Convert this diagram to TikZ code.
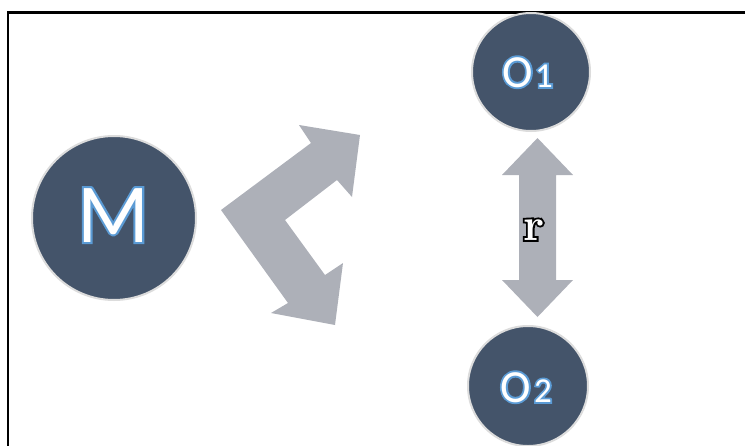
\documentclass[tikz,border=0pt]{standalone}
\usepackage{fontspec}
\newfontfamily\labelfont{Carlito}
\newfontfamily\rimM[FakeBold=5]{Carlito}
\newfontfamily\rimO[FakeBold=8]{Carlito}
\newfontfamily\rimD[FakeBold=10]{Carlito}
\newfontfamily\serifrim[FakeBold=8]{Latin Modern Roman}
\definecolor{discfill}{HTML}{44546A}
\definecolor{discrim}{HTML}{DCDCDC}
\definecolor{arrowgray}{HTML}{ADB0B8}
\definecolor{glowblue}{HTML}{5B9BD5}

\begin{document}
\begin{tikzpicture}[x=1pt, y=-1pt,
  disc/.style={circle, fill=discfill, draw=discrim, line width=2pt, inner sep=0pt},
  blockarrow/.style={fill=arrowgray, draw=none},
  rim/.style={text=glowblue, inner sep=0pt, anchor=base west},
  face/.style={text=white, inner sep=0pt, anchor=base west}]
\useasboundingbox (0,0) rectangle (745,445);

% frame (top and left edges)
\draw[line width=2.2pt, line cap=rect] (8,445) -- (8,12.5) -- (745,12.5);

% discs
\node[disc, minimum size=164pt] (m) at (114,218) {};
\node[disc, minimum size=118pt] (o1) at (531,72) {};
\node[disc, minimum size=120pt] (o2) at (528,386) {};

% labels: emboldened blue glyph under a white glyph on the same origin
\node[rim, font=\rimM\fontsize{84}{84}\selectfont] (mrim) at (77,242) {M};
\node[face, font=\labelfont\fontsize{84}{84}\selectfont] (mlab) at (77,242) {M};

\node[rim, font=\rimO\fontsize{46}{46}\selectfont] (o1rim) at (502,87) {O};
\node[face, font=\labelfont\fontsize{46}{46}\selectfont] (o1lab) at (502,87) {O};
\node[rim, font=\rimD\fontsize{35}{35}\selectfont] (n1rim) at (535,87) {1};
\node[face, font=\labelfont\fontsize{35}{35}\selectfont] (n1lab) at (535,87) {1};

\node[rim, font=\rimO\fontsize{46}{46}\selectfont] (o2rim) at (500,402) {O};
\node[face, font=\labelfont\fontsize{46}{46}\selectfont] (o2lab) at (500,402) {O};
\node[rim, font=\rimD\fontsize{35}{35}\selectfont] (n2rim) at (534,402) {2};
\node[face, font=\labelfont\fontsize{35}{35}\selectfont] (n2lab) at (534,402) {2};

% bent double block arrow
\fill[blockarrow] (360,135) -- (352,197) -- (337,180) -- (285,220) -- (325,275)
  -- (343,263) -- (335,325) -- (271,313) -- (288,303) -- (221,210)
  -- (311,143) -- (299,125) -- cycle;

% vertical double block arrow
\fill[blockarrow] (537.5,138) -- (573,175) -- (556,175) -- (556,280) -- (573,280)
  -- (537.5,317) -- (502,280) -- (519,280) -- (519,175) -- (502,175) -- cycle;

% distance label: outlined serif r
\node[inner sep=0pt, anchor=base west, text=black, font=\serifrim\bfseries\fontsize{46}{46}\selectfont] (rrim) at (523,240) {r};
\node[inner sep=0pt, anchor=base west, text=white, font=\bfseries\fontsize{46}{46}\selectfont] (rlab) at (523,240) {r};
\end{tikzpicture}
\end{document}
